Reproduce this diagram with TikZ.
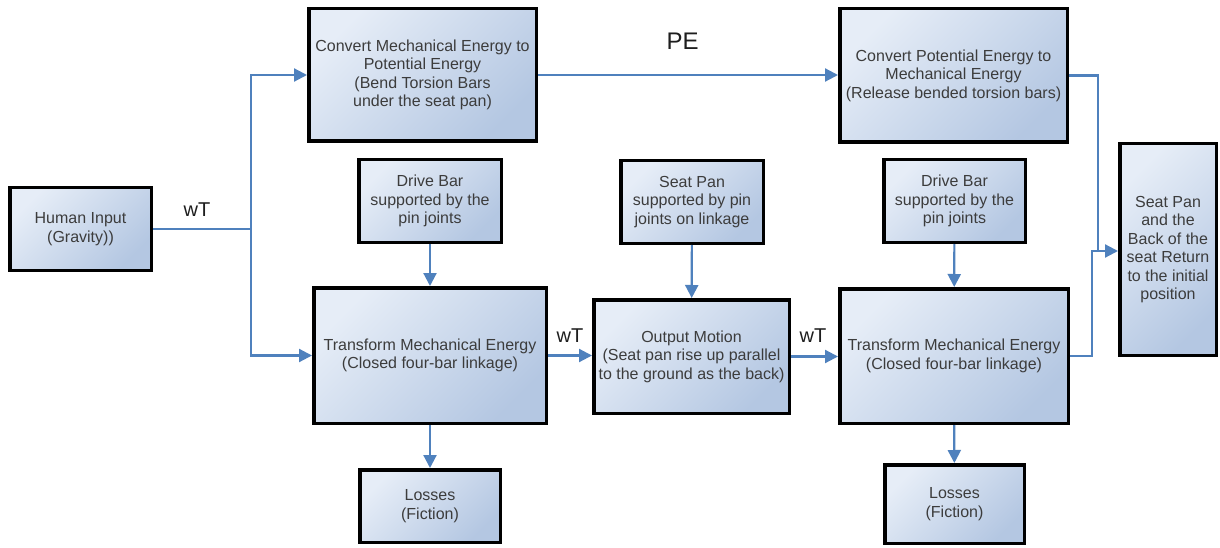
\documentclass[tikz,border=0pt]{standalone}
\usepackage{fontspec}
\setmainfont{Liberation Sans}
\usetikzlibrary{arrows.meta}
\definecolor{fluss}{HTML}{4F81BD}
\definecolor{kastenhell}{HTML}{E6EDF7}
\definecolor{kastendunkel}{HTML}{B4C7E2}
\definecolor{schrift}{HTML}{3C3C3C}
\definecolor{etikett}{HTML}{1E1E1E}
\newcommand{\kastenfont}{\fontsize{16}{18.5}\selectfont}
\newcommand{\wtfont}{\fontsize{20}{24}\selectfont}
\newcommand{\pefont}{\fontsize{24}{28}\selectfont}
\tikzset{kasten/.style={draw=black,line width=3.5pt,top color=kastenhell,
    bottom color=kastendunkel,shading angle=45,text=schrift,font=\kastenfont,
    align=center,inner sep=2pt},
  leitung/.style={fluss,line width=2.2pt},
  pfeil/.style={leitung,-{Triangle[length=13pt,width=13pt]}},
  marke/.style={text=etikett,font=\wtfont,inner sep=0}}

\begin{document}
\begin{tikzpicture}[x=1pt,y=-1pt]
\useasboundingbox[fill=white] (0,0) rectangle (1220,548);
\node[kasten,minimum width=141.5,minimum height=82.5] (mensch) at (80.5,229) {Human Input\\(Gravity))};
\node[kasten,minimum width=227.5,minimum height=132.5] (mechpot) at (422.5,75) {Convert Mechanical Energy to\\Potential Energy\\(Bend Torsion Bars\\under the seat pan)};
\node[kasten,minimum width=227.5,minimum height=133.5] (potmech) at (953.5,75.5) {Convert Potential Energy to\\Mechanical Energy\\(Release bended torsion bars)};
\node[kasten,minimum width=142.5,minimum height=82.5] (antriebl) at (430,201) {Drive Bar\\supported by the\\pin joints};
\node[kasten,minimum width=142.5,minimum height=82.5] (sitzm) at (692,202) {Seat Pan\\supported by pin\\joints on linkage};
\node[kasten,minimum width=141.5,minimum height=82.5] (antriebr) at (954.5,201) {Drive Bar\\supported by the\\pin joints};
\node[kasten,minimum width=96.5,minimum height=211.5] (rueck) at (1168,249.5) {Seat Pan\\and the\\Back of the\\seat Return\\to the initial\\position};
\node[kasten,minimum width=232.5,minimum height=135.5] (wandl) at (430,355.5) {Transform Mechanical Energy\\(Closed four-bar linkage)};
\node[kasten,minimum width=195.5,minimum height=113.5] (ausgang) at (691.5,356.5) {Output Motion\\(Seat pan rise up parallel\\to the ground as the back)};
\node[kasten,minimum width=228.5,minimum height=134.5] (wandr) at (954,356) {Transform Mechanical Energy\\(Closed four-bar linkage)};
\node[kasten,minimum width=140.5,minimum height=72.5] (verlustl) at (430,506) {Losses\\(Fiction)};
\node[kasten,minimum width=139.5,minimum height=78.5] (verlustr) at (954.5,504) {Losses\\(Fiction)};
\coordinate (abzweig) at (251,229);
\coordinate (oben) at (1098,251);
\coordinate (unten) at (1092,251);
\draw[leitung] (mensch.east) -- (abzweig);
\draw[pfeil] (abzweig) |- (mechpot.west);
\draw[pfeil] (abzweig) |- (wandl.west);
\node[marke] (wt1) at (197,210) {wT};
\draw[pfeil] (mechpot.east) -- (mechpot.east -| potmech.west);
\node[marke,font=\pefont] (pe) at (682.5,41.5) {PE};
\draw[leitung] (potmech.east) -| (oben);
\draw[pfeil] (wandr.east) -| (unten) -- (unten -| rueck.west);
\draw[pfeil] (antriebl) -- (wandl);
\draw[pfeil] (sitzm) -- (ausgang);
\draw[pfeil] (antriebr) -- (wandr);
\draw[pfeil] (wandl) -- (verlustl);
\draw[pfeil] (wandr) -- (verlustr);
\draw[pfeil] (wandl.east) -- (wandl.east -| ausgang.west);
\node[marke] (wt2) at (570,336) {wT};
\draw[pfeil] (ausgang.east) -- (ausgang.east -| wandr.west);
\node[marke] (wt3) at (813,336) {wT};
\end{tikzpicture}
\end{document}
